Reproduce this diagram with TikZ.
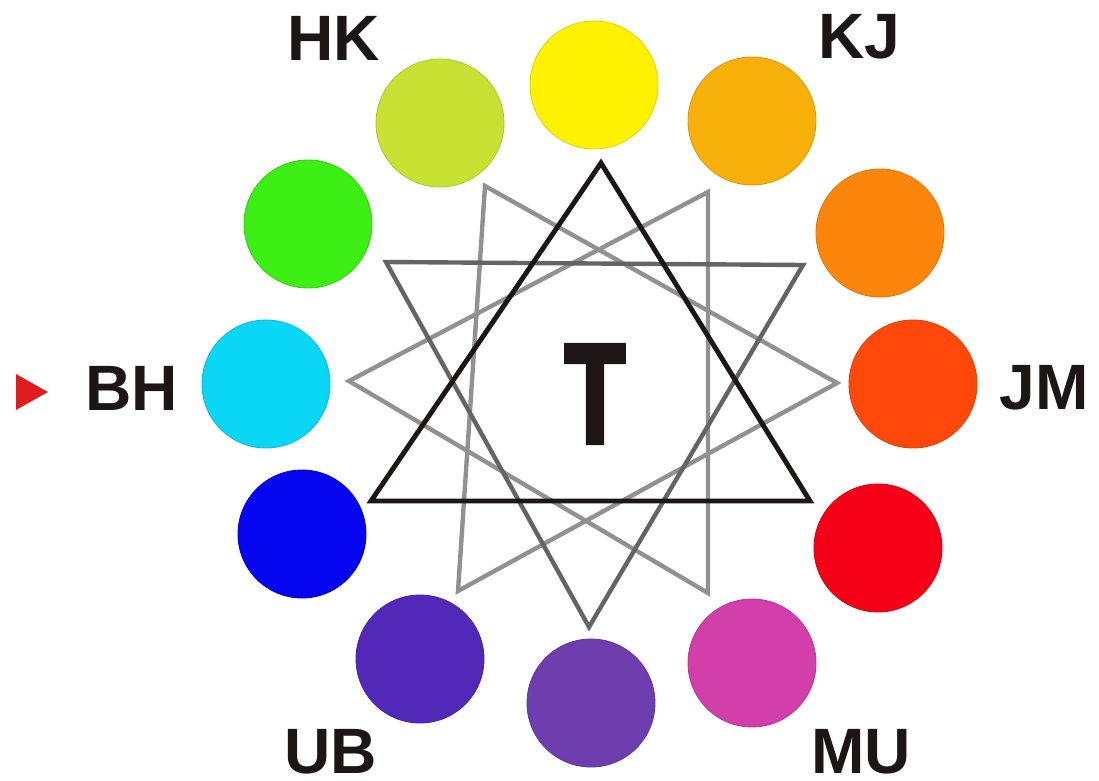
\documentclass[tikz,border=0pt]{standalone}
\usepackage{fontspec}
\setmainfont{Liberation Sans}
\newfontfamily\teefont[FakeBold=4]{Liberation Sans Bold}
\usepackage{graphicx}
\usetikzlibrary{positioning}
\definecolor{cyellow}{RGB}{255,242,0}
\definecolor{camber}{RGB}{247,176,10}
\definecolor{corange}{RGB}{252,134,12}
\definecolor{cvermil}{RGB}{255,72,10}
\definecolor{cred}{RGB}{245,0,22}
\definecolor{cmagenta}{RGB}{210,62,170}
\definecolor{cviolet}{RGB}{110,62,175}
\definecolor{cindigo}{RGB}{82,40,185}
\definecolor{cblue}{RGB}{5,5,240}
\definecolor{ccyan}{RGB}{10,215,245}
\definecolor{cgreen}{RGB}{60,238,20}
\definecolor{clime}{RGB}{200,226,52}
\definecolor{inkblack}{RGB}{28,22,22}
\definecolor{stargray}{RGB}{145,145,145}
\definecolor{stardark}{RGB}{100,100,100}
\definecolor{markred}{RGB}{222,30,30}
\tikzset{
  huedot/.style={circle, inner sep=0pt, minimum size=2.56cm,
    fill=#1, draw=#1!88!black, line width=0.5pt},
  tonelabel/.style={font=\fontsize{36.5}{40}\selectfont\bfseries,
    text=inkblack, inner sep=0pt},
  blackedge/.style={draw=inkblack, line width=2.8pt, line join=miter},
  darkedge/.style={draw=stardark, line width=2.5pt, line join=miter},
  grayedge/.style={draw=stargray, line width=2.5pt, line join=miter},
}

\begin{document}
\begin{tikzpicture}[x=0.02cm, y=-0.02cm]
  \useasboundingbox (0,0) rectangle (1099,781);

  %% ── colour ring ─────────────────────────────────────────────
  \node[huedot=cyellow]  (yel) at (594,85)  {};
  \node[huedot=camber]   (amb) at (752,121) {};
  \node[huedot=corange]  (org) at (880,233) {};
  \node[huedot=cvermil]  (ver) at (913,384) {};
  \node[huedot=cred]     (red) at (878,548) {};
  \node[huedot=cmagenta] (mag) at (752,663) {};
  \node[huedot=cviolet]  (vio) at (591,703) {};
  \node[huedot=cindigo]  (ind) at (420,659) {};
  \node[huedot=cblue]    (blu) at (302,534) {};
  \node[huedot=ccyan]    (cya) at (266,384) {};
  \node[huedot=cgreen]   (grn) at (308,224) {};
  \node[huedot=clime]    (lim) at (440,123) {};

  %% ── star of four triangles ──────────────────────────────────
  \coordinate (ga1) at (485,186);
  \coordinate (ga2) at (837,383);
  \coordinate (ga3) at (458,591);
  \coordinate (gb1) at (708,192);
  \coordinate (gb2) at (349,381);
  \coordinate (gb3) at (708,593);
  \coordinate (dn1) at (386,262);
  \coordinate (dn2) at (803,265);
  \coordinate (dn3) at (589,627);
  \coordinate (up1) at (601,163);
  \coordinate (up2) at (371,501);
  \coordinate (up3) at (810,501);

  \draw[grayedge] (ga1) -- (ga2) -- (ga3) -- cycle;
  \draw[grayedge] (gb1) -- (gb2) -- (gb3) -- cycle;
  \draw[darkedge] (dn1) -- (dn2) -- (dn3) -- cycle;
  \draw[blackedge] (up1) -- (up2) -- (up3) -- cycle;

  % centre letter
  \node[inner sep=0pt, text=inkblack,
        font=\teefont\fontsize{80}{80}\selectfont] (tee) at (595,394)
    {\scalebox{0.7}[1]{T}};

  %% ── labels ──────────────────────────────────────────────────
  \node[tonelabel] (hk) at (334,38)  {HK};
  \node[tonelabel] (kj) at (859,37)  {KJ};
  \node[tonelabel] (jm) at (1044,388) {JM};
  \node[tonelabel] (mu) at (861,752) {MU};
  \node[tonelabel] (ub) at (331,752) {UB};
  \node[tonelabel] (bh) at (132,388) {BH};

  % pointer at BH
  \coordinate (mk1) at (16,374);
  \coordinate (mk2) at (48,392);
  \coordinate (mk3) at (16,410);
  \fill[markred] (mk1) -- (mk2) -- (mk3) -- cycle;

\end{tikzpicture}
\end{document}
